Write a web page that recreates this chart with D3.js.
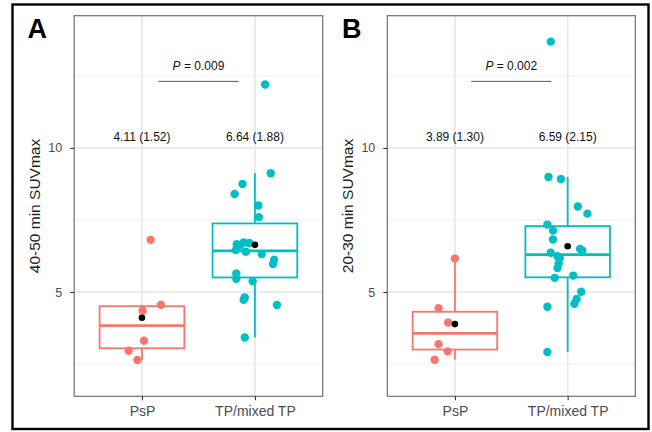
<!DOCTYPE html>
<html>
<head>
<meta charset="utf-8">
<script src="https://cdn.jsdelivr.net/npm/d3@7"></script>
<style>
  html, body { margin: 0; padding: 0; background: #fff; }
  text { font-family: "Liberation Sans", Arial, Helvetica, sans-serif; }
</style>
</head>
<body>
<svg id="chart" width="652" height="432"></svg>
<script>
// ---------------- data ----------------
const categories = ["PsP", "TP/mixed TP"];
const yTicks = [5, 10];
const yMinorTicks = [2.5, 7.5, 12.5];
const yDomain = [1.38, 14.59];

// Panel A (40-50 min)
const aPsP = [6.81, 4.56, 4.35, 3.31, 2.96, 2.64];
const aPsPJitter = [0.077, 0.168, 0.006, 0.018, -0.118, -0.04];
const aTP = [12.20, 9.12, 8.75, 8.40, 8.00, 7.60, 6.72, 6.70, 6.66, 6.62, 6.46, 6.40,
             6.32, 6.12, 5.97, 5.64, 5.46, 5.37, 4.81, 4.73, 4.55, 3.42];
const aTPJitter = [0.09, 0.14, -0.11, -0.18, 0.03, 0.035, -0.10, -0.05, -0.16, -0.13, -0.17, -0.08,
                   0.06, 0.17, 0.16, -0.165, -0.165, -0.02, -0.09, -0.10, 0.195, -0.09];
const aLabels = ["4.11 (1.52)", "6.64 (1.88)"];
const aPText = "0.009";
const aTitle = "40-50 min SUVmax";

// Panel B (20-30 min)
const bPsP = [6.16, 4.44, 3.94, 3.19, 2.94, 2.65];
const bPsPJitter = [0.0, -0.145, -0.06, -0.145, -0.065, -0.18];
const bTP = [13.69, 8.99, 8.92, 7.97, 7.72, 7.34, 7.13, 6.82, 6.49, 6.44, 6.36, 6.24, 6.17,
             5.99, 5.83, 5.57, 5.49, 5.01, 4.76, 4.59, 4.49, 2.92];
const bTPJitter = [-0.15, -0.17, -0.06, 0.09, 0.175, -0.18, -0.13, -0.13, 0.11, 0.13, -0.15, -0.09, -0.07,
                   -0.08, -0.09, 0.05, -0.115, 0.12, 0.08, 0.06, -0.18, -0.18];
const bLabels = ["3.89 (1.30)", "6.59 (2.15)"];
const bPText = "0.002";
const bTitle = "20-30 min SUVmax";

const colors = ["#F8766D", "#00BFC4"];

// ---------------- drawing ----------------
const svg = d3.select("#chart");
svg.append("rect").attr("x", 0).attr("y", 0).attr("width", 652).attr("height", 432).attr("fill", "#fff");

function boxStats(vals) {
  const s = vals.slice().sort(d3.ascending);
  const q1 = d3.quantileSorted(s, 0.25), med = d3.quantileSorted(s, 0.5), q3 = d3.quantileSorted(s, 0.75);
  const iqr = q3 - q1;
  const lo = d3.min(s.filter(v => v >= q1 - 1.5 * iqr));
  const hi = d3.max(s.filter(v => v <= q3 + 1.5 * iqr));
  return {q1, med, q3, lo, hi, mean: d3.mean(s)};
}

function panel(opt) {
  const g = svg.append("g");
  const x = d3.scalePoint().domain(categories).range([opt.left, opt.right]).padding(0.6);
  const y = d3.scaleLinear().domain(yDomain).range([opt.bottom, opt.top]);
  const step = x.step();

  // grid
  g.selectAll(".minor").data(yMinorTicks).join("line")
    .attr("x1", opt.left).attr("x2", opt.right)
    .attr("y1", d => y(d)).attr("y2", d => y(d))
    .attr("stroke", "#efefef").attr("stroke-width", 1);
  g.selectAll(".major").data(yTicks).join("line")
    .attr("x1", opt.left).attr("x2", opt.right)
    .attr("y1", d => y(d)).attr("y2", d => y(d))
    .attr("stroke", "#e6e6e6").attr("stroke-width", 1.6);
  g.selectAll(".vmajor").data(categories).join("line")
    .attr("x1", d => x(d)).attr("x2", d => x(d))
    .attr("y1", opt.top).attr("y2", opt.bottom)
    .attr("stroke", "#e6e6e6").attr("stroke-width", 1.6);

  const groups = [
    {cat: categories[0], vals: opt.psp, jit: opt.pspJ, color: colors[0]},
    {cat: categories[1], vals: opt.tp, jit: opt.tpJ, color: colors[1]}
  ];

  groups.forEach(gr => {
    const st = boxStats(gr.vals);
    const cx = x(gr.cat), hw = step * 0.75 / 2;
    // whiskers
    g.append("line").attr("x1", cx).attr("x2", cx).attr("y1", y(st.q3)).attr("y2", y(st.hi))
      .attr("stroke", gr.color).attr("stroke-width", 1.8);
    g.append("line").attr("x1", cx).attr("x2", cx).attr("y1", y(st.q1)).attr("y2", y(st.lo))
      .attr("stroke", gr.color).attr("stroke-width", 1.8);
    // box
    g.append("rect").attr("x", cx - hw).attr("width", 2 * hw)
      .attr("y", y(st.q3)).attr("height", y(st.q1) - y(st.q3))
      .attr("fill", "#fff").attr("stroke", gr.color).attr("stroke-width", 1.8);
    g.append("line").attr("x1", cx - hw).attr("x2", cx + hw).attr("y1", y(st.med)).attr("y2", y(st.med))
      .attr("stroke", gr.color).attr("stroke-width", 2.8);
    // points
    g.append("g").selectAll("circle").data(gr.vals).join("circle")
      .attr("cx", (d, i) => cx + gr.jit[i] * step)
      .attr("cy", d => y(d))
      .attr("r", 4.2)
      .attr("fill", gr.color);
    // mean
    g.append("circle").attr("cx", cx).attr("cy", y(st.mean)).attr("r", 3.3).attr("fill", "#000");
  });

  // summary labels
  g.selectAll(".lab").data(categories).join("text")
    .attr("x", d => x(d)).attr("y", y(10.25))
    .attr("text-anchor", "middle").attr("font-size", 12).attr("fill", "#111")
    .text((d, i) => opt.labels[i]);

  // p-value bracket
  const x1 = x(categories[0]) + 0.145 * step, x2 = x(categories[0]) + 0.855 * step;
  g.append("line").attr("x1", x1).attr("x2", x2).attr("y1", y(12.31)).attr("y2", y(12.31))
    .attr("stroke", "#555").attr("stroke-width", 1);
  const pt = g.append("text").attr("x", (x1 + x2) / 2).attr("y", y(12.72))
    .attr("text-anchor", "middle").attr("font-size", 12).attr("fill", "#111");
  pt.append("tspan").attr("font-style", "italic").text("P");
  pt.append("tspan").text(" = " + opt.p);

  // panel border
  g.append("rect").attr("x", opt.left).attr("y", opt.top)
    .attr("width", opt.right - opt.left).attr("height", opt.bottom - opt.top)
    .attr("fill", "none").attr("stroke", "#6e6e6e").attr("stroke-width", 1.2);

  // axes
  const ya = g.append("g").attr("transform", `translate(${opt.left},0)`)
    .call(d3.axisLeft(y).tickValues(yTicks).tickSize(4).tickPadding(8));
  ya.select(".domain").remove();
  ya.selectAll("line").attr("stroke", "#333").attr("stroke-width", 1.1);
  ya.selectAll("text").attr("font-size", 12.5).attr("fill", "#4d4d4d")
    .attr("font-family", "'Liberation Sans', Arial, sans-serif");

  const xa = g.append("g").attr("transform", `translate(0,${opt.bottom})`)
    .call(d3.axisBottom(x).tickSize(4).tickPadding(6));
  xa.select(".domain").remove();
  xa.selectAll("line").attr("stroke", "#333").attr("stroke-width", 1.1);
  xa.selectAll("text").attr("font-size", 14).attr("fill", "#4d4d4d")
    .attr("font-family", "'Liberation Sans', Arial, sans-serif");

  // y title
  g.append("text").attr("transform", `translate(${opt.titleX},${(opt.top + opt.bottom) / 2}) rotate(-90)`)
    .attr("text-anchor", "middle").attr("font-size", 15.5).attr("fill", "#222")
    .text(opt.title);

  // panel letter
  g.append("text").attr("x", opt.letterX).attr("y", 37.5)
    .attr("font-size", 27).attr("font-weight", "bold").attr("fill", "#000")
    .text(opt.letter);
}

panel({left: 74.2, right: 322.7, top: 15.7, bottom: 396.3, psp: aPsP, pspJ: aPsPJitter, tp: aTP, tpJ: aTPJitter,
       labels: aLabels, p: aPText, title: aTitle, titleX: 40, letter: "A", letterX: 27.5});
panel({left: 387.3, right: 635.3, top: 15.7, bottom: 396.3, psp: bPsP, pspJ: bPsPJitter, tp: bTP, tpJ: bTPJitter,
       labels: bLabels, p: bPText, title: bTitle, titleX: 353, letter: "B", letterX: 342});

// outer frame
svg.append("rect").attr("x", 12.5).attr("y", 4.5).attr("width", 636).attr("height", 424.5)
  .attr("fill", "none").attr("stroke", "#000").attr("stroke-width", 2.4);
</script>
</body>
</html>
